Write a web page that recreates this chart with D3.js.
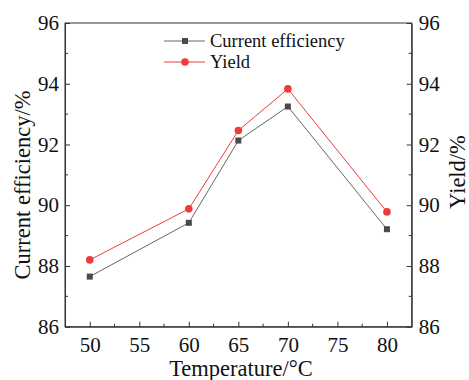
<!DOCTYPE html>
<html>
<head>
<meta charset="utf-8">
<script src="https://cdn.jsdelivr.net/npm/d3@7"></script>
<style>
  html, body { margin: 0; padding: 0; background: #fff; }
  svg { display: block; }
  svg text { font-family: "Liberation Serif", "Times New Roman", serif; fill: #111; }
</style>
</head>
<body>
<svg id="chart" width="469" height="380" font-family="Liberation Serif"></svg>
<script>
// Process data: temperature vs current efficiency and yield
const temperatures = [50, 60, 65, 70, 80];
const currentEfficiency = [87.65, 89.42, 92.13, 93.25, 89.21];
const yieldValues = [88.2, 89.88, 92.46, 93.83, 89.78];
const xTicks = [50, 55, 60, 65, 70, 75, 80];
const yTicks = [86, 88, 90, 92, 94, 96];

const svg = d3.select("#chart");
const plotLeft = 65, plotRight = 411.7, plotTop = 23, plotBottom = 326.7;
const serif = "'Liberation Serif', 'Times New Roman', serif";

const x = d3.scaleLinear().domain([47.5, 82.5]).range([plotLeft, plotRight]);
const y = d3.scaleLinear().domain([86, 96]).range([plotBottom, plotTop]);

const axisColor = "#333";

// Frame
svg.append("rect")
  .attr("x", plotLeft).attr("y", plotTop)
  .attr("width", plotRight - plotLeft).attr("height", plotBottom - plotTop)
  .attr("fill", "none").attr("stroke", axisColor).attr("stroke-width", 1);

// Minor tick positions
const xMinor = xTicks.slice(0, -1).map(v => v + 2.5);
const yMinor = yTicks.slice(0, -1).map(v => v + 1);

// Bottom axis (ticks inward)
const gx = svg.append("g").attr("transform", `translate(0,${plotBottom})`)
  .call(d3.axisBottom(x).tickValues(xTicks).tickSizeInner(-5).tickSizeOuter(0).tickPadding(10).tickFormat(d3.format("d")));
gx.append("g").selectAll("line").data(xMinor).join("line")
  .attr("x1", d => x(d)).attr("x2", d => x(d)).attr("y1", 0).attr("y2", -3)
  .attr("stroke", axisColor);

// Left axis
const gyl = svg.append("g").attr("transform", `translate(${plotLeft},0)`)
  .call(d3.axisLeft(y).tickValues(yTicks).tickSizeInner(-5).tickSizeOuter(0).tickPadding(6).tickFormat(d3.format("d")));
gyl.append("g").selectAll("line").data(yMinor).join("line")
  .attr("y1", d => y(d)).attr("y2", d => y(d)).attr("x1", 0).attr("x2", 3)
  .attr("stroke", axisColor);

// Right axis
const gyr = svg.append("g").attr("transform", `translate(${plotRight},0)`)
  .call(d3.axisRight(y).tickValues(yTicks).tickSizeInner(-5).tickSizeOuter(0).tickPadding(7).tickFormat(d3.format("d")));
gyr.append("g").selectAll("line").data(yMinor).join("line")
  .attr("y1", d => y(d)).attr("y2", d => y(d)).attr("x1", 0).attr("x2", -3)
  .attr("stroke", axisColor);

[gx, gyl, gyr].forEach(g => {
  g.attr("font-family", serif).attr("font-size", 21);
  g.select(".domain").attr("stroke", axisColor);
  g.selectAll(".tick line").attr("stroke", axisColor);
  g.selectAll(".tick text").attr("fill", "#111").style("font-family", serif);
});

// Series
const ceData = temperatures.map((t, i) => ({ t, v: currentEfficiency[i] }));
const yData = temperatures.map((t, i) => ({ t, v: yieldValues[i] }));
const line = d3.line().x(d => x(d.t)).y(d => y(d.v));

const grey = "#4a4a4a", red = "#ee3b3b";

svg.append("path").datum(ceData).attr("d", line)
  .attr("fill", "none").attr("stroke", "#666").attr("stroke-width", 1);
svg.append("path").datum(yData).attr("d", line)
  .attr("fill", "none").attr("stroke", red).attr("stroke-width", 1);

svg.append("g").selectAll("rect").data(ceData).join("rect")
  .attr("x", d => x(d.t) - 3).attr("y", d => y(d.v) - 3)
  .attr("width", 6).attr("height", 6).attr("fill", grey);
svg.append("g").selectAll("circle").data(yData).join("circle")
  .attr("cx", d => x(d.t)).attr("cy", d => y(d.v)).attr("r", 3.8)
  .attr("fill", red);

// Legend
const legend = svg.append("g").attr("font-family", serif);
const legendItems = [
  { label: "Current efficiency", color: "#666", marker: "square", yPos: 41 },
  { label: "Yield", color: red, marker: "circle", yPos: 62 }
];
legendItems.forEach(item => {
  legend.append("line").attr("x1", 164).attr("x2", 205)
    .attr("y1", item.yPos).attr("y2", item.yPos)
    .attr("stroke", item.color).attr("stroke-width", 1);
  if (item.marker === "square") {
    legend.append("rect").attr("x", 182).attr("y", item.yPos - 3)
      .attr("width", 6).attr("height", 6).attr("fill", grey);
  } else {
    legend.append("circle").attr("cx", 185).attr("cy", item.yPos)
      .attr("r", 3.8).attr("fill", red);
  }
  legend.append("text").attr("x", 210).attr("y", item.yPos + 6)
    .attr("font-size", 18.5).text(item.label);
});

// Axis titles
svg.append("text").attr("x", 241).attr("y", 376)
  .attr("text-anchor", "middle").attr("font-size", 22.5)
  .text("Temperature/°C");
svg.append("text")
  .attr("transform", "translate(30,185) rotate(-90)")
  .attr("text-anchor", "middle").attr("font-size", 22.5)
  .text("Current efficiency/%");
svg.append("text")
  .attr("transform", "translate(465,172) rotate(-90)")
  .attr("text-anchor", "middle").attr("font-size", 22.5)
  .text("Yield/%");
</script>
</body>
</html>
